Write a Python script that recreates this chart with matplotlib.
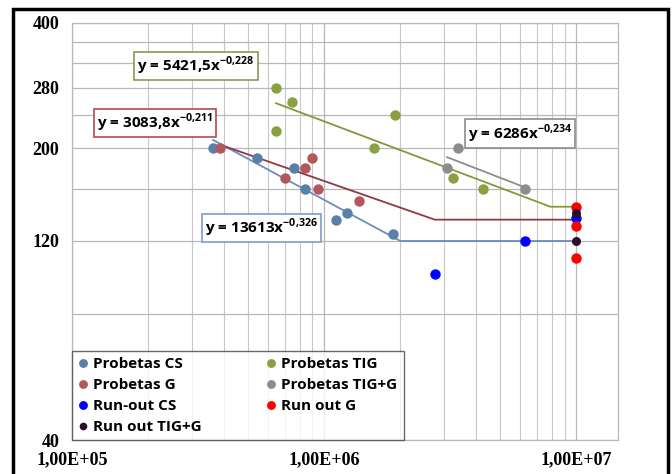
import matplotlib
matplotlib.use("Agg")
import matplotlib.pyplot as plt
from matplotlib.patches import Rectangle
import numpy as np

# Ensayos de fatiga: ciclos vs. tension
cs_x = [3.63e5, 5.42e5, 7.6e5, 8.4e5, 1.12e6, 1.23e6, 1.88e6]
cs_y = [200, 190, 180, 160, 135, 140, 125]
g_x = [3.87e5, 7.0e5, 8.4e5, 8.96e5, 9.47e5, 1.38e6]
g_y = [200, 170, 180, 190, 160, 150]
tig_x = [6.45e5, 7.46e5, 6.45e5, 1.58e6, 1.91e6, 3.25e6, 4.27e6]
tig_y = [280, 259, 220, 200, 241, 170, 160]
tigg_x = [3.08e6, 3.40e6, 6.28e6]
tigg_y = [180, 200, 160]

runout_cs_x = [2.76e6, 6.28e6, 1e7]
runout_cs_y = [100, 120, 136]
runout_g_x = [1e7, 1e7, 1e7]
runout_g_y = [145, 130, 109]
runout_tigg_x = [1e7, 1e7]
runout_tigg_y = [140, 120]

# Ajustes potenciales y = a * x^b, con tramo horizontal hasta 1e7
fits = {
    "cs": dict(a=13613, b=-0.326, x0=3.63e5, limit=120),
    "g": dict(a=3083.8, b=-0.211, x0=3.87e5, limit=135),
    "tig": dict(a=5421.5, b=-0.228, x0=6.45e5, limit=145),
}
tigg_fit = dict(a=6286, b=-0.234, x0=3.08e6, x1=6.28e6)

c_cs, c_g, c_tig, c_tigg = "#5a7fa8", "#b2585b", "#8aa043", "#8c8c8c"
l_cs, l_g, l_tig = "#6a8cbf", "#8e3a44", "#7f9b3a"

fig = plt.figure(figsize=(6.72, 4.74), dpi=100)
ax = fig.add_axes([0.107, 0.0717, 0.813, 0.88])
ax.set_xscale("log")
ax.set_yscale("log")


def fit_curve(a, b, x0, limit, x_end=1e7):
    x_knee = (limit / a) ** (1 / b)
    xs = np.geomspace(x0, x_knee, 50)
    xs = np.append(xs, x_end)
    ys = a * xs ** b
    ys[-1] = limit
    return xs, ys


for key, col in (("cs", l_cs), ("g", l_g), ("tig", l_tig)):
    xs, ys = fit_curve(**fits[key])
    ax.plot(xs, ys, color=col, lw=1.3, zorder=2)

xs = np.geomspace(tigg_fit["x0"], tigg_fit["x1"], 30)
ax.plot(xs, tigg_fit["a"] * xs ** tigg_fit["b"], color="#8c8c8c", lw=1.3, zorder=2)

ms = 7.5
ax.plot(cs_x, cs_y, "o", color=c_cs, ms=ms, mec="none", label="Probetas CS", zorder=3)
ax.plot(g_x, g_y, "o", color=c_g, ms=ms, mec="none", label="Probetas G", zorder=3)
ax.plot(runout_cs_x, runout_cs_y, "o", color="#0000ff", ms=ms, mec="none", label="Run-out CS", zorder=4)
ax.plot(runout_tigg_x, runout_tigg_y, "o", color="#2a0f2a", ms=6.5, mec="none", label="Run out TIG+G", zorder=5)
ax.plot(tig_x, tig_y, "o", color=c_tig, ms=ms, mec="none", label="Probetas TIG", zorder=3)
ax.plot(tigg_x, tigg_y, "o", color=c_tigg, ms=ms, mec="none", label="Probetas TIG+G", zorder=3)
ax.plot(runout_g_x, runout_g_y, "o", color="#ff0000", ms=ms, mec="none", label="Run out G", zorder=4)

ax.set_xlim(1e5, 1.47e7)
ax.set_ylim(40, 400)

serif = dict(family="Liberation Serif", weight="bold", size=13)
ax.set_xticks([1e5, 1e6, 1e7])
ax.set_xticklabels(["1,00E+05", "1,00E+06", "1,00E+07"], fontdict=serif)
ax.set_xticks([m * 10 ** e for e in (5, 6) for m in range(2, 10)], minor=True)
ax.xaxis.set_minor_formatter(matplotlib.ticker.NullFormatter())

yt = list(range(40, 401, 40))
ax.set_yticks(yt)
ax.set_yticklabels([str(v) if v in (40, 120, 200, 280, 400) else "" for v in yt], fontdict=serif)
ax.yaxis.set_minor_locator(matplotlib.ticker.NullLocator())
ax.tick_params(which="both", length=0, pad=9)
ax.tick_params(axis="x", pad=8)

ax.grid(True, which="major", color="#b8b8b8", lw=0.9)
ax.grid(True, which="minor", axis="x", color="#c8c8c8", lw=0.8)
ax.set_axisbelow(True)
for sp in ax.spines.values():
    sp.set_color("#b8b8b8")
    sp.set_linewidth(0.9)

eq_font = dict(family="Open Sans", weight="bold", size=11)
equations = [
    (3.1e5, 315, r"y = 5421,5x$^{\mathregular{-0{,}228}}$", "#8a9a50"),
    (2.13e5, 230, r"y = 3083,8x$^{\mathregular{-0{,}211}}$", "#b84848"),
    (5.67e5, 129, r"y = 13613x$^{\mathregular{-0{,}326}}$", "#7f9cc8"),
    (6.0e6, 217, r"y = 6286x$^{\mathregular{-0{,}234}}$", "#8c8c8c"),
]
for x, y, txt, ec in equations:
    ax.text(x, y, txt, ha="center", va="center", fontdict=eq_font, zorder=6,
            bbox=dict(boxstyle="square,pad=0.2", fc="white", ec=ec, lw=1.2))

leg = ax.legend(loc="lower left", ncol=2, bbox_to_anchor=(0.0, 0.0), borderaxespad=0.0,
                prop=dict(family="Open Sans", weight="bold", size=11),
                frameon=True, fancybox=False, edgecolor="#444444",
                handlelength=0.6, handletextpad=0.4, columnspacing=4.2,
                labelspacing=0.45, borderpad=0.4, markerscale=0.85)
leg.get_frame().set_linewidth(1.0)

# marco exterior
fig.patches.append(Rectangle((0.0193, -0.02), 0.975, 1.0, transform=fig.transFigure,
                             fill=False, ec="black", lw=2.5))

fig.savefig("out.png", dpi=100)
